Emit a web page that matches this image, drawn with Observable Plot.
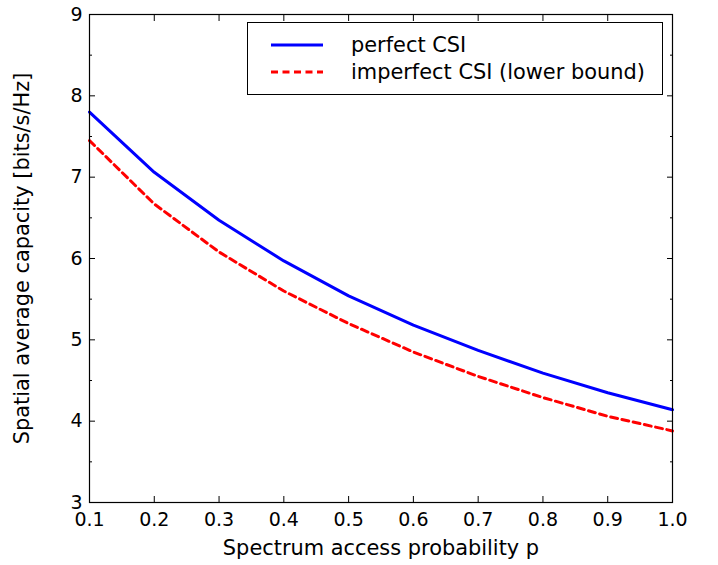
<!DOCTYPE html>
<html>
<head>
<meta charset="utf-8">
<script src="https://cdn.jsdelivr.net/npm/d3@7"></script>
<script src="https://cdn.jsdelivr.net/npm/@observablehq/plot@0.6"></script>
<style>
  html, body { margin: 0; padding: 0; background: #fff; }
  #wrap { position: relative; width: 718px; height: 565px; }
  #legend {
    position: absolute; left: 247px; top: 22px; width: 416px; height: 73px;
    border: 1.3px solid #000; background: #fff; box-sizing: border-box;
    font-family: "DejaVu Sans", sans-serif; font-size: 20.9px; color: #000;
  }
  #legend .row { position: absolute; left: 0; height: 26px; display: flex; align-items: center; white-space: nowrap; }
  #legend svg { margin-left: 23px; margin-right: 28px; }
</style>
</head>
<body>
<div id="wrap">
  <div id="chart"></div>
  <div id="legend">
    <div class="row" style="top:9px"><svg width="52" height="6"><line x1="0" y1="3" x2="52" y2="3" stroke="#0000ff" stroke-width="3"/></svg><span>perfect CSI</span></div>
    <div class="row" style="top:36px"><svg width="52" height="6"><line x1="0" y1="3" x2="52" y2="3" stroke="#ff0000" stroke-width="3" stroke-dasharray="7,4.5"/></svg><span>imperfect CSI (lower bound)</span></div>
  </div>
</div>
<script>
// Spectrum access probability and the two capacity curves
const p = [0.1, 0.2, 0.3, 0.4, 0.5, 0.6, 0.7, 0.8, 0.9, 1.0];
const perfectCSI = [7.80, 7.06, 6.47, 5.97, 5.54, 5.18, 4.87, 4.59, 4.35, 4.14];
const imperfectCSI = [7.45, 6.67, 6.08, 5.60, 5.20, 4.85, 4.55, 4.29, 4.06, 3.88];

// Tick positions
const xTicks = [0.1, 0.2, 0.3, 0.4, 0.5, 0.6, 0.7, 0.8, 0.9, 1.0];
const yTicks = [3, 4, 5, 6, 7, 8, 9];
const yMinorTicks = [3.5, 4.5, 5.5, 6.5, 7.5, 8.5];

const perfect = p.map((x, i) => ({p: x, c: perfectCSI[i]}));
const imperfect = p.map((x, i) => ({p: x, c: imperfectCSI[i]}));

const blank = () => "";

const chart = Plot.plot({
  width: 718,
  height: 565,
  marginLeft: 89,
  marginRight: 46,
  marginTop: 14,
  marginBottom: 63,
  x: {domain: [0.1, 1.0]},
  y: {domain: [3, 9]},
  style: {fontFamily: "DejaVu Sans, sans-serif", fontSize: "20px", color: "#000", background: "#fff", overflow: "visible"},
  marks: [
    // inward ticks on all four sides
    Plot.axisX(xTicks, {anchor: "bottom", tickSize: -6, tickFormat: blank, label: null}),
    Plot.axisX(xTicks, {anchor: "top", tickSize: -6, tickFormat: blank, label: null}),
    Plot.axisY(yTicks, {anchor: "left", tickSize: -6, tickFormat: blank, label: null}),
    Plot.axisY(yTicks, {anchor: "right", tickSize: -6, tickFormat: blank, label: null}),
    Plot.axisY(yMinorTicks, {anchor: "left", tickSize: -3, tickFormat: blank, label: null}),
    Plot.axisY(yMinorTicks, {anchor: "right", tickSize: -3, tickFormat: blank, label: null}),
    // tick labels
    Plot.axisX(xTicks, {anchor: "bottom", tickSize: 0, tickPadding: 10, tickFormat: d => d.toFixed(1), fontSize: 19, label: null}),
    Plot.axisY(yTicks, {anchor: "left", tickSize: 0, tickPadding: 7, tickFormat: d => String(d), fontSize: 19, label: null}),
    // axis titles
    Plot.axisX(xTicks, {anchor: "bottom", tickSize: 0, tickFormat: blank, fontSize: 20.9,
      label: "Spectrum access probability p", labelAnchor: "center", labelOffset: 52, labelArrow: "none"}),
    Plot.axisY(yTicks, {anchor: "left", tickSize: 0, tickFormat: blank, fontSize: 20.9,
      label: "Spatial average capacity [bits/s/Hz]", labelAnchor: "center", labelOffset: 75, labelArrow: "none"}),
    Plot.line(perfect, {x: "p", y: "c", stroke: "#0000ff", strokeWidth: 3}),
    Plot.line(imperfect, {x: "p", y: "c", stroke: "#ff0000", strokeWidth: 3, strokeDasharray: "7,4.5"}),
    Plot.frame({stroke: "#000", strokeWidth: 1.2})
  ]
});

document.getElementById("chart").appendChild(chart);
</script>
</body>
</html>
